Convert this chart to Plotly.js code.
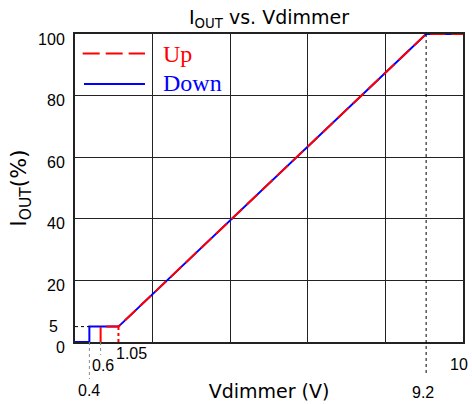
<!DOCTYPE html>
<html>
<head>
<meta charset="utf-8">
<script src="https://cdn.plot.ly/plotly-3.0.1.min.js"></script>
<style>html,body{margin:0;padding:0;background:#fff;}#chart{width:472px;height:404px;}</style>
</head>
<body>
<div id="chart"></div>
<script>
// ---- data (x positions, labels as printed) ----
const downX = [0, 0.37, 0.37, 1.12, 9.05, 10];
const downY = [0, 0, 5, 5, 100, 100];
const upX = [0.66, 0.66, 1.12, 9.05, 10];
const upY = [0, 5, 5, 100, 100];
const xTickVals = [0.37, 0.66, 1.12, 9.05, 10];
const xTickText = ['0.4', '0.6', '1.05', '9.2', '10'];
const yTickVals = [0, 20, 40, 60, 80, 100];
const yTickText = ['0', '20', '40', '60', '80', '100'];
const yExtraVal = 5;
const yExtraText = '5';
const seriesNames = ['Up', 'Down'];

// ---- styling ----
const SANS = 'Liberation Sans, Arial, sans-serif';
const WIDE = 'DejaVu Sans, Liberation Sans, sans-serif';
const SERIF = 'Liberation Serif, Times New Roman, serif';
const RED = '#ff0000', BLUE = '#0000ff';
const DASH = '15px,6px';

const traces = [
  {x: downX, y: downY, type: 'scatter', mode: 'lines', name: seriesNames[1],
   line: {color: BLUE, width: 2}, showlegend: false, hoverinfo: 'skip'},
  {x: upX, y: upY, type: 'scatter', mode: 'lines', name: seriesNames[0],
   line: {color: RED, width: 2, dash: DASH}, showlegend: false, hoverinfo: 'skip'}
];

// label offsets (px) below the x axis for the staggered tick labels
const xLabelShift = [[0, -48, 'center'], [2, -23, 'center'], [-4, -11, 'left'], [-3, -50, 'center'], [-4, -22, 'center']];
const annotations = xTickVals.map((v, i) => ({
  x: v, xref: 'x', y: 0, yref: 'paper', text: xTickText[i], showarrow: false,
  xanchor: xLabelShift[i][2], yanchor: 'middle', xshift: xLabelShift[i][0], yshift: xLabelShift[i][1],
  font: {family: SANS, size: 16, color: '#000'}
}));
annotations.push({x: 0, xref: 'paper', y: yExtraVal, yref: 'y', text: yExtraText, showarrow: false,
  xanchor: 'right', yanchor: 'middle', xshift: -15, yshift: 0, font: {family: SANS, size: 16, color: '#000'}});
// legend (drawn by hand to match the long line samples)
annotations.push({x: 0.2216, xref: 'paper', y: 0.935, yref: 'paper', text: seriesNames[0], showarrow: false,
  xanchor: 'left', yanchor: 'middle', font: {family: SERIF, size: 24, color: RED}});
annotations.push({x: 0.2216, xref: 'paper', y: 0.841, yref: 'paper', text: seriesNames[1], showarrow: false,
  xanchor: 'left', yanchor: 'middle', font: {family: SERIF, size: 24, color: BLUE}});

const shapes = [
  // legend samples
  {type: 'line', xref: 'paper', yref: 'paper', x0: 0.0198, x1: 0.1804, y0: 0.937, y1: 0.937,
   line: {color: RED, width: 2, dash: '17px,6px'}},
  {type: 'line', xref: 'paper', yref: 'paper', x0: 0.0232, x1: 0.1804, y0: 0.8377, y1: 0.8377,
   line: {color: BLUE, width: 2}},
  // dotted helper at y = 5 up to the down-threshold
  {type: 'line', xref: 'x', yref: 'y', x0: 0, x1: downX[1], y0: yExtraVal, y1: yExtraVal,
   line: {color: '#000', width: 1, dash: 'dot'}},
  // red dotted riser at the knee
  {type: 'line', xref: 'x', yref: 'y', x0: upX[2], x1: upX[2], y0: 0, y1: yExtraVal,
   line: {color: RED, width: 2, dash: 'dot'}},
  // drop lines below the axis to staggered labels
  {type: 'line', xref: 'x', yref: 'paper', x0: xTickVals[0], x1: xTickVals[0], y0: 0, y1: -0.12,
   line: {color: '#888', width: 1, dash: 'dot'}},
  {type: 'line', xref: 'x', yref: 'paper', x0: xTickVals[1], x1: xTickVals[1], y0: 0, y1: -0.042,
   line: {color: '#888', width: 1, dash: 'dot'}},
  {type: 'line', xref: 'x', yref: 'paper', x0: xTickVals[3], x1: xTickVals[3], y0: 1, y1: -0.107,
   line: {color: '#000', width: 1, dash: 'dot'}}
];

const layout = {
  width: 472, height: 404,
  margin: {l: 75, r: 9, t: 34, b: 62, pad: 0},
  paper_bgcolor: '#fff', plot_bgcolor: '#fff',
  showlegend: false,
  font: {family: SANS, color: '#000'},
  title: {text: 'I<sub>OUT</sub> vs. Vdimmer', font: {family: WIDE, size: 19, color: '#000'},
          x: 0.5, xref: 'paper', xanchor: 'center', y: 0.958, yref: 'container', yanchor: 'middle'},
  xaxis: {range: [0, 10], dtick: 2, tick0: 0, showticklabels: false, ticks: '',
          showgrid: true, gridcolor: '#222', gridwidth: 1, zeroline: false,
          showline: true, mirror: true, linecolor: '#222', linewidth: 2, layer: 'below traces',
          fixedrange: true,
          title: {text: 'Vdimmer (V)', font: {family: WIDE, size: 19, color: '#000'}, standoff: 42}},
  yaxis: {range: [0, 100], tickvals: yTickVals, ticktext: yTickText, ticks: '',
          tickfont: {family: SANS, size: 16, color: '#000'}, ticklabelshift: 5, ticklabelstandoff: 5,
          showgrid: true, gridcolor: '#222', gridwidth: 1, zeroline: false,
          showline: true, mirror: true, linecolor: '#222', linewidth: 2, layer: 'below traces',
          fixedrange: true,
          title: {text: 'I<sub>OUT</sub>(%)', font: {family: WIDE, size: 22, color: '#000'}, standoff: 5}},
  annotations: annotations,
  shapes: shapes
};

Plotly.newPlot('chart', traces, layout, {staticPlot: true, displayModeBar: false});
</script>
</body>
</html>
